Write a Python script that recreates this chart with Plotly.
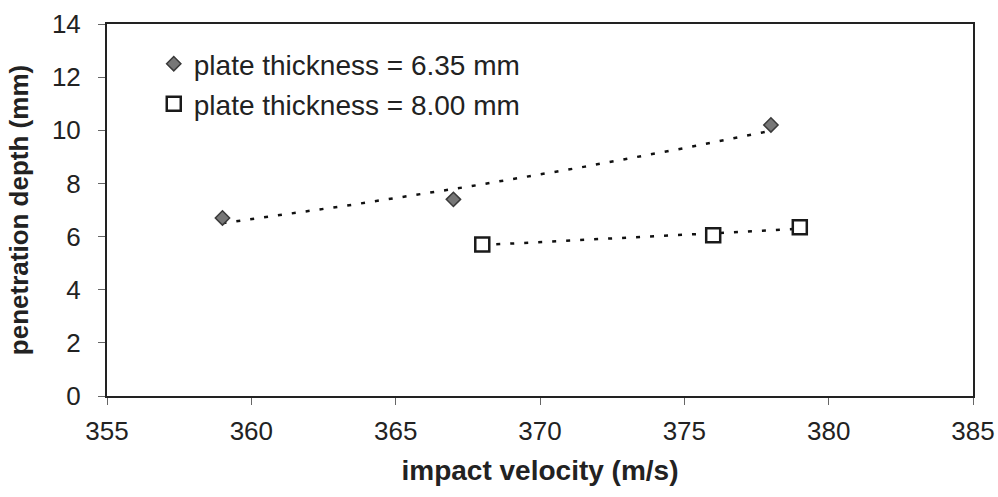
import numpy as np
import plotly.graph_objects as go

# measured points
velocity_635 = [359, 367, 378]
depth_635 = [6.7, 7.4, 10.2]
velocity_800 = [368, 376, 379]
depth_800 = [5.7, 6.05, 6.35]

x_ticks = [355, 360, 365, 370, 375, 380, 385]
y_ticks = [0, 2, 4, 6, 8, 10, 12, 14]


def expo_trend(xs, ys, n=60):
    # Excel style exponential trendline: y = a * exp(b x)
    b, ln_a = np.polyfit(xs, np.log(ys), 1)
    xx = np.linspace(min(xs), max(xs), n)
    return xx, np.exp(ln_a + b * xx)


fig = go.Figure()

for xs, ys in [(velocity_635, depth_635), (velocity_800, depth_800)]:
    tx, ty = expo_trend(xs, ys)
    fig.add_trace(go.Scatter(x=tx, y=ty, mode="lines", showlegend=False,
                             line=dict(color="#111111", width=2.5, dash="4px,10px"),
                             hoverinfo="skip"))

fig.add_trace(go.Scatter(x=velocity_635, y=depth_635, mode="markers",
                         name="plate thickness = 6.35 mm", legend="legend",
                         marker=dict(symbol="diamond", size=11, color="#777777",
                                     line=dict(color="#3a3a3a", width=1.5))))
fig.add_trace(go.Scatter(x=velocity_800, y=depth_800, mode="markers",
                         name="plate thickness = 8.00 mm", legend="legend2",
                         marker=dict(symbol="square", size=14, color="white",
                                     line=dict(color="#1a1a1a", width=2.5))))

FONT = "Liberation Sans, Arial, sans-serif"
leg_common = dict(xanchor="left", yanchor="middle", bgcolor="rgba(0,0,0,0)",
                  font=dict(family=FONT, size=28, color="#222222"),
                  itemsizing="trace", itemwidth=30)

fig.update_layout(
    width=998, height=497,
    plot_bgcolor="white", paper_bgcolor="white",
    margin=dict(l=107, r=25, t=24, b=101),
    font=dict(family=FONT, size=26, color="#222222"),
    legend=dict(x=0.054, y=0.8925, **leg_common),
    legend2=dict(x=0.054, y=0.785, **leg_common),
)
fig.update_xaxes(range=[355, 385], tickvals=x_ticks, showgrid=False, zeroline=False,
                 showline=True, linecolor="#222222", linewidth=2, mirror=True,
                 ticks="outside", ticklen=7, tickcolor="#666666", automargin=False,
                 ticklabelstandoff=4, ticklabeloverflow="allow",
                 tickfont=dict(family=FONT, size=26, color="#222222"),
                 title=dict(text="<b>impact velocity (m/s)</b>", standoff=15,
                            font=dict(family=FONT, size=28)))
fig.update_yaxes(range=[0, 14], tickvals=y_ticks, showgrid=False, zeroline=False,
                 showline=True, linecolor="#222222", linewidth=2, mirror=True,
                 ticks="outside", ticklen=7, tickcolor="#666666", automargin=False,
                 ticklabelstandoff=12,
                 tickfont=dict(family=FONT, size=26, color="#222222"),
                 title=dict(text="<b>penetration depth (mm)</b>", standoff=16,
                            font=dict(family=FONT, size=26)))

# drop the default 8px page margin so the figure fills the window exactly
fig.write_html("out.html", config={"displayModeBar": False},
               post_script="document.body.style.margin='0';"
                           "document.body.style.overflow='hidden';")
